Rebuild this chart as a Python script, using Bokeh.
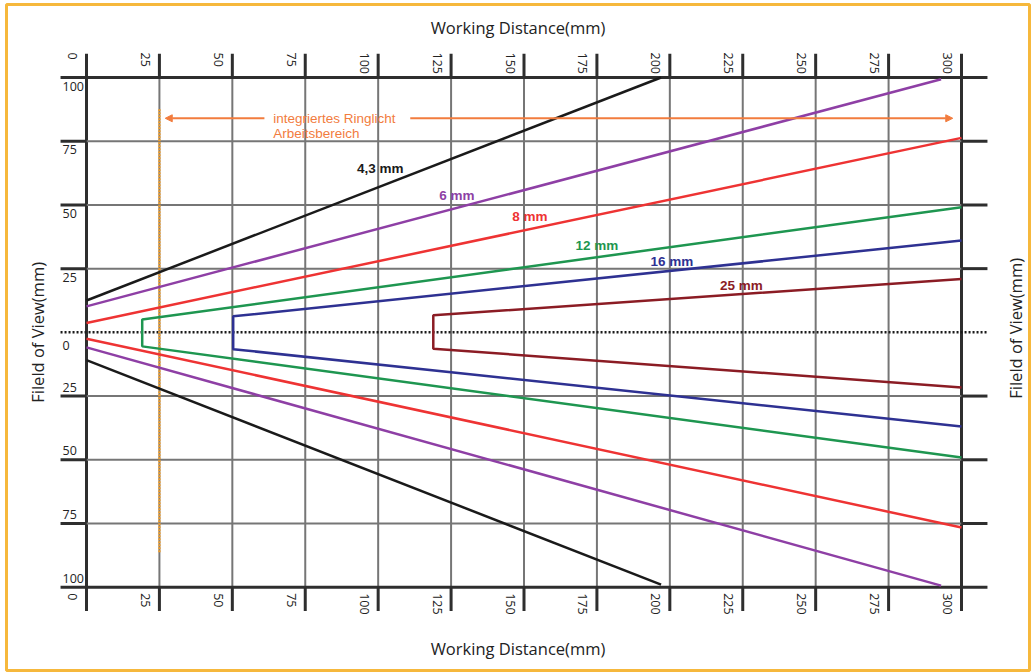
import math
from bokeh.plotting import figure
from bokeh.models import Range1d, Arrow, NormalHead
from bokeh.core.properties import value
from bokeh.embed import file_html
from bokeh.resources import INLINE

# ---------------- data ----------------
lenses = ["4,3 mm", "6 mm", "8 mm", "12 mm", "16 mm", "25 mm"]
lens_colors = ["#1a1a1a", "#8E3FA5", "#EE3333", "#1E9650", "#2E3192", "#8B1C24"]
wd_start = [0, 0, 0, 19.1, 50.3, 118.9]
wd_end = [197, 293, 300, 300, 300, 300]
fov_top_start = [12.5, 10.2, 3.7, 5.0, 6.3, 6.7]
fov_top_end = [100, 99.3, 76.3, 49.1, 36.0, 20.9]
fov_bot_start = [-10.9, -5.9, -2.5, -5.5, -6.6, -6.4]
fov_bot_end = [-99, -99.4, -76.6, -49.1, -36.9, -21.6]
label_wd = [100.7, 127, 152, 175, 200.7, 224.5]
label_fov = [64.2, 53.6, 45.3, 34.0, 27.7, 18.4]

wd_ticks = [0, 25, 50, 75, 100, 125, 150, 175, 200, 225, 250, 275, 300]
wd_tick_labels = [str(t) for t in wd_ticks]
fov_ticks = [100, 75, 50, 25, 0, -25, -50, -75, -100]
fov_tick_labels = ["100", "75", "50", "25", "0", "25", "50", "75", "100"]

ring_marker_wd = 25
ring_marker_fov = [87.5, -86.7]
ring_arrow_wd = [27, 297]
ring_arrow_gap = [61, 111]
ring_arrow_fov = 84
ring_text = ["integriertes Ringlicht", "Arbeitsbereich"]
ring_text_wd = 64

x_title = "Working Distance(mm)"
y_title = "Fileld of View(mm)"

# ---------------- figure ----------------
W, H = 1033, 672
BL, BT, BR, BB = 6, 4, 4, 2          # frame insets (border position)
FW, FH = W - BL - BR, H - BT - BB
sx = 875 / 300.0
sy = 509.7 / 200.0
x0 = -(86 - BL) / sx
y1 = (331.85 - BT) / sy
p = figure(width=W, height=H,
           x_range=Range1d(x0, x0 + FW / sx), y_range=Range1d(y1 - FH / sy, y1),
           output_backend="svg", toolbar_location=None,
           x_axis_location=None, y_axis_location=None,
           min_border_left=BL, min_border_top=BT, min_border_right=BR, min_border_bottom=BB)
p.grid.visible = False
p.outline_line_color = "#F6B83C"
p.outline_line_width = 3
p.background_fill_color = "white"
p.border_fill_color = "white"

GRAY = "#767676"
DARK = "#2e2e2e"
wd_min, wd_max = wd_ticks[0], wd_ticks[-1]
fv_min, fv_max = min(fov_ticks), max(fov_ticks)
stub_x = 8.9
stub_y = 9.3

# vertical grid lines
for t in wd_ticks:
    if t in (wd_min, wd_max):
        p.segment(x0=[t], y0=[fv_min - stub_y], x1=[t], y1=[fv_max + stub_y],
                  line_color=DARK, line_width=3)
    else:
        p.segment(x0=[t], y0=[fv_min], x1=[t], y1=[fv_max], line_color=GRAY, line_width=2)
        p.segment(x0=[t, t], y0=[fv_max, fv_min], x1=[t, t],
                  y1=[fv_max + stub_y, fv_min - stub_y], line_color=DARK, line_width=3)

# horizontal grid lines
for t in fov_ticks:
    if t == 0:
        continue
    if t in (fv_min, fv_max):
        p.segment(x0=[wd_min - stub_x], y0=[t], x1=[wd_max + stub_x], y1=[t],
                  line_color=DARK, line_width=3)
    else:
        p.segment(x0=[wd_min], y0=[t], x1=[wd_max], y1=[t], line_color=GRAY, line_width=2)
        p.segment(x0=[wd_min - stub_x, wd_max], y0=[t, t], x1=[wd_min, wd_max + stub_x],
                  y1=[t, t], line_color=DARK, line_width=3)

# dotted centre line
p.segment(x0=[wd_min - stub_x], y0=[0], x1=[wd_max + stub_x], y1=[0],
          line_color="#1a1a1a", line_width=2.5, line_dash="2 2")

# ring light working range
p.segment(x0=[ring_marker_wd], y0=[ring_marker_fov[0]], x1=[ring_marker_wd],
          y1=[ring_marker_fov[1]], line_color="#F0A030", line_width=2.5, line_dash="2 1")
ORANGE = "#F27C3E"
for gx, hx in zip(ring_arrow_gap, ring_arrow_wd):
    p.add_layout(Arrow(end=NormalHead(size=7, fill_color=ORANGE, line_color=ORANGE),
                       x_start=gx, y_start=ring_arrow_fov, x_end=hx, y_end=ring_arrow_fov,
                       line_color=ORANGE, line_width=2))
p.text(x=[ring_text_wd, ring_text_wd], y=[ring_arrow_fov, ring_arrow_fov],
       text=ring_text, y_offset=[0, 15], text_color=ORANGE,
       text_font=value("Liberation Sans"), text_font_size="13.5px",
       text_align="left", text_baseline="middle")

# lens curves
xs, ys, cs = [], [], []
for i in range(len(lenses)):
    if wd_start[i] > 0:
        xs.append([wd_end[i], wd_start[i], wd_start[i], wd_end[i]])
        ys.append([fov_top_end[i], fov_top_start[i], fov_bot_start[i], fov_bot_end[i]])
        cs.append(lens_colors[i])
    else:
        xs.append([wd_start[i], wd_end[i]])
        ys.append([fov_top_start[i], fov_top_end[i]])
        cs.append(lens_colors[i])
        xs.append([wd_start[i], wd_end[i]])
        ys.append([fov_bot_start[i], fov_bot_end[i]])
        cs.append(lens_colors[i])
p.multi_line(xs=xs, ys=ys, line_color=cs, line_width=2.5)

p.text(x=label_wd, y=label_fov, text=lenses, text_color=lens_colors,
       text_font=value("Liberation Sans"), text_font_style="bold", text_font_size="13.5px",
       text_align="center", text_baseline="middle")

# tick labels
FONT = value("Open Sans")
p.text(x=wd_ticks, y=[fv_max] * len(wd_ticks), text=wd_tick_labels, angle=-math.pi / 2,
       x_offset=-14, y_offset=-25, text_font=FONT, text_font_size="12.5px",
       text_color="#222222", text_align="left", text_baseline="middle")
p.text(x=wd_ticks, y=[fv_min] * len(wd_ticks), text=wd_tick_labels, angle=-math.pi / 2,
       x_offset=-14, y_offset=6, text_font=FONT, text_font_size="12.5px",
       text_color="#222222", text_align="left", text_baseline="middle")

up_y = [t for t in fov_ticks if t > 0]
up_l = [l for t, l in zip(fov_ticks, fov_tick_labels) if t > 0]
lo_y = [t for t in fov_ticks if t < 0]
lo_l = [l for t, l in zip(fov_ticks, fov_tick_labels) if t < 0]
z_l = [l for t, l in zip(fov_ticks, fov_tick_labels) if t == 0]
p.text(x=[wd_min] * len(up_y), y=up_y, text=up_l, x_offset=-24, y_offset=4,
       text_font=FONT, text_font_size="12.5px", text_color="#222222",
       text_align="left", text_baseline="top")
p.text(x=[wd_min], y=[0], text=z_l, x_offset=-24, y_offset=9,
       text_font=FONT, text_font_size="12.5px", text_color="#222222",
       text_align="left", text_baseline="top")
p.text(x=[wd_min] * len(lo_y), y=lo_y, text=lo_l, x_offset=-24, y_offset=-9,
       text_font=FONT, text_font_size="12.5px", text_color="#222222",
       text_align="left", text_baseline="alphabetic")

# axis titles
p.text(x=[(wd_min + wd_max) / 2] * 2, y=[fv_max, fv_min], text=[x_title, x_title],
       x_offset=-6, y_offset=[-50, 61], text_font=FONT, text_font_size="16.5px",
       text_color="#222222", text_align="center", text_baseline="middle")
p.text(x=[wd_min, wd_max], y=[0, 0], text=[y_title, y_title], angle=math.pi / 2,
       x_offset=[-49, 54], y_offset=[0, -4], text_font=FONT, text_font_size="16.5px",
       text_color="#222222", text_align="center", text_baseline="middle")

open("out.html", "w").write(file_html(p, INLINE))
